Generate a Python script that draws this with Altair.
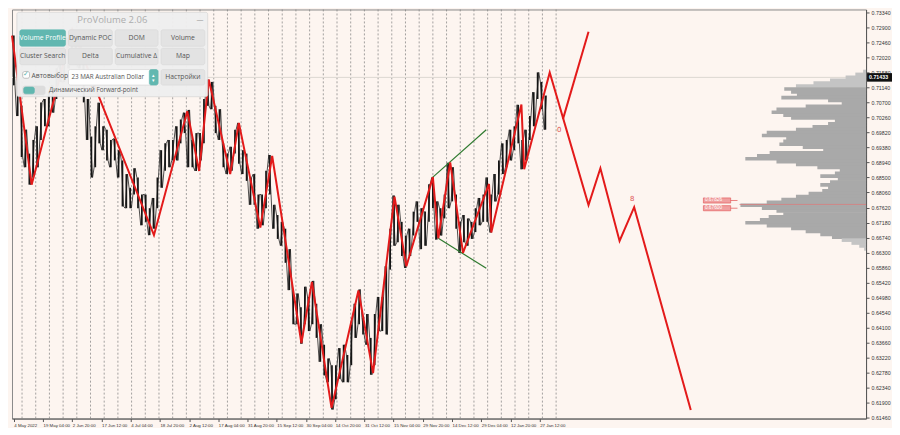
import altair as alt
import pandas as pd

# ---------------- data ----------------
date_labels = ["4 May 2022", "19 May 04:00", "2 Jun 20:00", "17 Jun 12:00", "4 Jul 04:00",
               "18 Jul 20:00", "2 Aug 12:00", "17 Aug 04:00", "31 Aug 20:00", "15 Sep 12:00",
               "30 Sep 04:00", "14 Oct 20:00", "31 Oct 12:00", "15 Nov 04:00", "29 Nov 20:00",
               "14 Dec 12:00", "29 Dec 04:00", "12 Jan 20:00", "27 Jan 12:00"]
price_ticks = [round(0.61460 + 0.0044 * k, 5) for k in range(28)]
current_price = 0.71433

# H4 bars sampled every ~8.5 bars: high / low in pips (price * 10000)
bar_hi = [7266, 7140, 7060, 6990, 6920, 6960, 7000, 7070, 7080, 7100,
          7120, 7170, 7180, 7200, 7260, 7283, 7240, 7250, 7200, 7080,
          6970, 7000, 7069, 7000, 6990, 6960, 6964, 6930, 6900, 6860,
          6820, 6877, 6850, 6800, 6800, 6760, 6790, 6850, 6930, 6950,
          6960, 6960, 7000, 7020, 7040, 7048, 6960, 6980, 6980, 7080,
          7137, 7130, 7060, 7050, 6950, 6920, 6940, 6990, 7010, 6930,
          6920, 6850, 6860, 6800, 6800, 6870, 6916, 6770, 6740, 6720,
          6700, 6640, 6520, 6510, 6470, 6530, 6500, 6547, 6480, 6420,
          6360, 6320, 6300, 6300, 6350, 6360, 6330, 6420, 6480, 6522,
          6440, 6450, 6380, 6450, 6500, 6500, 6590, 6700, 6797, 6770,
          6720, 6680, 6700, 6750, 6780, 6760, 6750, 6830, 6850, 6780,
          6760, 6800, 6893, 6880, 6800, 6720, 6740, 6730, 6720, 6760,
          6790, 6800, 6850, 6800, 6860, 6900, 6950, 6960, 6990, 7000,
          7063, 6960, 6990, 7030, 7100, 7158, 7130, 7090]
bar_lo = [7120, 7030, 6910, 6880, 6829, 6850, 6880, 6960, 7000, 7000,
          7040, 7080, 7130, 7130, 7170, 7200, 7180, 7170, 7070, 6960,
          6850, 6880, 6950, 6930, 6900, 6880, 6900, 6850, 6765, 6760,
          6760, 6800, 6760, 6710, 6720, 6681, 6700, 6760, 6820, 6870,
          6880, 6900, 6900, 6950, 6980, 6880, 6880, 6869, 6900, 6950,
          7060, 7050, 6980, 6960, 6880, 6860, 6870, 6920, 6890, 6860,
          6840, 6770, 6770, 6700, 6710, 6760, 6800, 6700, 6670, 6650,
          6600, 6520, 6420, 6420, 6363, 6420, 6400, 6420, 6380, 6310,
          6270, 6250, 6170, 6200, 6260, 6250, 6250, 6300, 6380, 6420,
          6390, 6360, 6272, 6300, 6400, 6400, 6390, 6580, 6650, 6660,
          6620, 6585, 6620, 6680, 6720, 6640, 6650, 6720, 6760, 6668,
          6680, 6730, 6760, 6780, 6700, 6629, 6660, 6650, 6670, 6690,
          6710, 6720, 6720, 6689, 6780, 6800, 6860, 6880, 6900, 6930,
          6950, 6874, 6900, 6960, 7000, 7080, 7050, 6990]

# ZigZag pivots (bar index, price)
zz_bar = [0, 43, 132, 311, 384, 410, 431, 478, 497, 544, 570, 634, 657, 700, 759, 791,
          838, 864, 922, 934, 960, 988, 1045, 1050, 1116, 1122, 1178]
zz_price = [0.7266, 0.6829, 0.7283, 0.6681, 0.7044, 0.6869, 0.7137, 0.6860, 0.7010, 0.6703,
            0.6913, 0.6365, 0.6544, 0.6175, 0.6519, 0.6277, 0.6794, 0.6590, 0.6851, 0.6672,
            0.6894, 0.6629, 0.6831, 0.6689, 0.7064, 0.6874, 0.7158]
# projected path
proj_bar = [1178, 1263, 1289, 1331, 1363, 1487]
proj_price = [0.7158, 0.6769, 0.6877, 0.6664, 0.6763, 0.6169]
# alternative (bullish) branch
alt_bar = [1207, 1263]
alt_price = [0.7021, 0.7277]
# green triangle lines
green_up_bar, green_up_price = [922, 1039], [0.6851, 0.6990]
green_dn_bar, green_dn_price = [934, 1039], [0.6672, 0.6584]

# volume profile: volume per price row, top row first
profile_vol = [3, 11, 21, 37, 54, 72, 84, 77, 71, 87, 39, 25, 62, 92, 97, 85, 77, 32, 39, 55,
               72, 102, 107, 82, 85, 89, 65, 44, 99, 112, 124, 92, 72, 50, 27, 32, 47, 29, 37, 47,
               39, 45, 59, 72, 87, 102, 129, 107, 92, 85, 100, 109, 124, 102, 77, 62, 47, 35, 25, 15,
               7, 2]
profile_top = 0.71606
profile_step = 0.000852
va_high, va_low = 0.7110, 0.6672
poc_price = 0.6771
poc_labels = ["0.67826", "0.67600"]
poc_label_prices = [0.67826, 0.67600]

# ---------------- geometry / styles ----------------
W, H = 856, 410
BG = "#fdf5f0"
RED = "#e31a1a"
X_MAX = 1871
Y_MIN, Y_MAX = 0.61437, 0.73423
BARS_PER_LABEL = 64
FIRST_LABEL_BAR = 4


def bx(xr):  # reference pixel x -> bar index
    return xr * 64 / 30


def py(yr):  # reference pixel y -> price
    return 0.73482 - 0.00028424 * yr


XS = alt.Scale(domain=[0, X_MAX], nice=False, zero=False)
YS = alt.Scale(domain=[Y_MIN, Y_MAX], nice=False, zero=False)
label_arr = "[" + ",".join("'" + s + "'" for s in date_labels) + "]"
XA = alt.Axis(values=[FIRST_LABEL_BAR + BARS_PER_LABEL * k for k in range(len(date_labels))],
              labelExpr=label_arr + "[round((datum.value-4)/64)]",
              labelAlign="left", labelFontSize=4.4, labelPadding=2, labelColor="#333",
              labelFont="Liberation Sans", tickSize=3, tickColor="#555", domainColor="#555",
              grid=False, labelOverlap=False, labelFlush=False, title=None)
YA = alt.Axis(orient="right", values=price_ticks, format=".5f", labelFontSize=5.3,
              labelColor="#333", labelFont="Liberation Sans", labelPadding=2, tickSize=3,
              tickColor="#555", domainColor="#555", grid=False, labelOverlap=False,
              labelFlush=False, title=None)


def X(f):
    return alt.X(f, type="quantitative", scale=XS, axis=XA, title=None)


def Y(f):
    return alt.Y(f, type="quantitative", scale=YS, axis=YA, title=None)


# ---------------- tables ----------------
sep_df = pd.DataFrame({"bar": [22 + 30 * k for k in range(40)]})
ohlc = pd.DataFrame({"bar": [4 + 8.5 * i for i in range(len(bar_hi))],
                     "hi": [v / 10000 for v in bar_hi],
                     "lo": [v / 10000 for v in bar_lo]})
# scribble path through the bars (high then low of each bar) for the dense-bar texture
scr = []
for i, r in ohlc.iterrows():
    first, second = (r.hi, r.lo) if i % 2 == 0 else (r.lo, r.hi)
    scr.append({"bar": r.bar - 2.5, "p": first, "k": 2 * i})
    scr.append({"bar": r.bar + 2.5, "p": second, "k": 2 * i + 1})
scr_df = pd.DataFrame(scr)

zz_df = pd.DataFrame({"bar": zz_bar + proj_bar[1:], "p": zz_price + proj_price[1:]})
zz_df["i"] = range(len(zz_df))
alt_df = pd.DataFrame({"bar": alt_bar, "p": alt_price})
green_df = pd.DataFrame({"bar": green_up_bar + green_dn_bar,
                         "p": green_up_price + green_dn_price,
                         "id": ["u", "u", "d", "d"]})
rows = []
for i, v in enumerate(profile_vol):
    lvl = profile_top - i * profile_step
    rows.append({"left": X_MAX - v * 64 / 30, "right": X_MAX,
                 "top": lvl + profile_step * 0.62, "bottom": lvl - profile_step * 0.62,
                 "shade": "#a9a9a9" if va_low <= lvl <= va_high else "#c4c4c4"})
prof_df = pd.DataFrame(rows)

# ---------------- layers ----------------
sep = alt.Chart(sep_df).mark_rule(color="#7c7c7c", strokeWidth=0.7, strokeDash=[2, 2]).encode(x=X("bar"))
cur = alt.Chart(pd.DataFrame({"p": [current_price]})).mark_rule(color="#dcd7d2", strokeWidth=1).encode(y=Y("p"))
prof = alt.Chart(prof_df).mark_rect(strokeWidth=0).encode(
    x=X("left"), x2=alt.X2("right"), y=Y("top"), y2=alt.Y2("bottom"),
    color=alt.Color("shade:N", scale=None))
poc = alt.Chart(pd.DataFrame({"a": [bx(747)], "b": [X_MAX], "p": [poc_price]})).mark_rule(
    color="#e07878", strokeWidth=0.7).encode(x=X("a"), x2=alt.X2("b"), y=Y("p"))
black = alt.Chart(ohlc).mark_rule(color="#151515", strokeWidth=1.7).encode(
    x=X("bar"), y=Y("lo"), y2=alt.Y2("hi"))
scribble = alt.Chart(scr_df).mark_line(color="#222", strokeWidth=0.8).encode(
    x=X("bar"), y=Y("p"), order=alt.Order("k:Q"))
green = alt.Chart(green_df).mark_line(color="#2f7a2f", strokeWidth=1.2).encode(
    x=X("bar"), y=Y("p"), detail="id:N")
zig = alt.Chart(zz_df).mark_line(color=RED, strokeWidth=2).encode(
    x=X("bar"), y=Y("p"), order=alt.Order("i:Q"))
branch = alt.Chart(alt_df).mark_line(color=RED, strokeWidth=2).encode(x=X("bar"), y=Y("p"))
rtext = alt.Chart(pd.DataFrame({"bar": [bx(562), bx(637)], "p": [py(126), py(197)],
                                "t": ["0", "8"]})).mark_text(
    color="#e05555", fontSize=7, font="DejaVu Sans").encode(x=X("bar"), y=Y("p"), text="t:N")
plab_df = pd.DataFrame({"a": [bx(710)] * 2, "b": [bx(738)] * 2, "c": [bx(745)] * 2,
                        "p": poc_label_prices, "t": poc_labels})
plab_df["p1"] = plab_df["p"] + 0.00075
plab_df["p0"] = plab_df["p"] - 0.00075
plab_box = alt.Chart(plab_df).mark_rect(fill="#f0a0a0", stroke="#e05050", strokeWidth=0.6).encode(
    x=X("a"), x2=alt.X2("b"), y=Y("p1"), y2=alt.Y2("p0"))
plab_tick = alt.Chart(plab_df).mark_rule(color="#e05050", strokeWidth=0.7).encode(
    x=X("b"), x2=alt.X2("c"), y=Y("p"))
plab_txt = alt.Chart(plab_df).mark_text(color="white", fontSize=4.8, align="left",
                                        font="Liberation Sans", dx=1.5).encode(
    x=X("a"), y=Y("p"), text="t:N")

cp_df = pd.DataFrame({"p": [current_price], "p1": [current_price + 0.00125],
                      "p0": [current_price - 0.00125], "t": [f"{current_price:.5f}"]})
cp_box = alt.Chart(cp_df).mark_rect(color="#111").encode(
    x=alt.value(W + 1), x2=alt.value(W + 26), y=Y("p1"), y2=alt.Y2("p0"))
cp_txt = alt.Chart(cp_df).mark_text(color="white", fontSize=5.3, align="left",
                                    font="Liberation Sans", fontWeight="bold").encode(
    x=alt.value(W + 3), y=Y("p"), text="t:N")

# ---------------- ProVolume panel (layout in reference pixels) ----------------
TEAL, BTN, TXT = "#5db6ae", "#e3e3e3", "#555555"
panel_rects = [
    (5, 5, 201, 92, "#efefef", "#cfcfcf"),
    (8, 23, 55, 40, TEAL, TEAL), (58, 23, 103, 40, BTN, "#d6d6d6"),
    (106, 23, 150, 40, BTN, "#d6d6d6"), (153, 23, 198, 40, BTN, "#d6d6d6"),
    (8, 42, 55, 59, BTN, "#d6d6d6"), (58, 42, 103, 59, BTN, "#d6d6d6"),
    (106, 42, 150, 59, BTN, "#d6d6d6"), (153, 42, 198, 59, BTN, "#d6d6d6"),
    (58, 64, 150, 80, "#ffffff", "#d0d0d0"), (141, 64, 150, 80, TEAL, TEAL),
    (153, 64, 198, 80, BTN, "#d6d6d6"),
    (11, 66, 18, 73, "#ffffff", "#9a9a9a"),
    (11, 81, 34, 90, "#dcdcdc", "#dcdcdc"), (12, 82, 23, 89, TEAL, TEAL),
]
pr_df = pd.DataFrame([{"a": bx(r[0]), "b": bx(r[2]), "t": py(r[1]), "u": py(r[3]),
                       "f": r[4], "s": r[5]} for r in panel_rects])
pr_df["k"] = range(len(pr_df))
panel = alt.Chart(pr_df).mark_rect(cornerRadius=2, strokeWidth=0.6, opacity=0.97).encode(
    x=X("a"), x2=alt.X2("b"), y=Y("t"), y2=alt.Y2("u"),
    fill=alt.Fill("f:N", scale=None), stroke=alt.Stroke("s:N", scale=None), order="k:Q")

ptexts_c = [
    ("ProVolume 2.06", 103, 13, "#adadad", 9.5), ("—", 193, 13, "#9a9a9a", 7),
    ("Volume Profile", 31.5, 31.5, "#ffffff", 6.8), ("Dynamic POC", 80.5, 31.5, TXT, 6.8),
    ("DOM", 128, 31.5, TXT, 6.8), ("Volume", 175.5, 31.5, TXT, 6.8),
    ("Cluster Search", 31.5, 50.5, TXT, 6.8), ("Delta", 80.5, 50.5, TXT, 6.8),
    ("Cumulative Δ", 128, 50.5, TXT, 6.8), ("Map", 175.5, 50.5, TXT, 6.8),
    ("✓", 14.5, 69, TEAL, 7), ("▴", 145.5, 69.5, "#ffffff", 5), ("▾", 145.5, 75, "#ffffff", 5),
    ("Настройки", 175.5, 72, TXT, 6.8),
]
ptexts_l = [
    ("Автовыбор", 20, 70.5, TXT, 6.8), ("23 MAR Australian Dollar", 61, 72, TXT, 6.3),
    ("Динамический Forward-point", 38, 85.5, TXT, 6.3),
]


def text_layer(items, align):
    df = pd.DataFrame([{"txt": t[0], "bar": bx(t[1]), "p": py(t[2]), "c": t[3], "fs": t[4]}
                       for t in items])
    return alt.Chart(df).mark_text(align=align, baseline="middle", font="Open Sans").encode(
        x=X("bar"), y=Y("p"), text="txt:N", color=alt.Color("c:N", scale=None),
        size=alt.Size("fs:Q", scale=None))


chart = alt.layer(
    sep, cur, prof, poc, scribble, black, green, zig, branch, rtext,
    plab_box, plab_tick, plab_txt, cp_box, cp_txt,
    panel, text_layer(ptexts_c, "center"), text_layer(ptexts_l, "left"),
).properties(
    width=W, height=H, background=BG,
    padding={"left": 0, "top": 0, "right": 0, "bottom": 0},
).configure_view(stroke="#8a8a8a", strokeWidth=1)

chart.save("out.html", embed_options={"renderer": "svg", "actions": False})
